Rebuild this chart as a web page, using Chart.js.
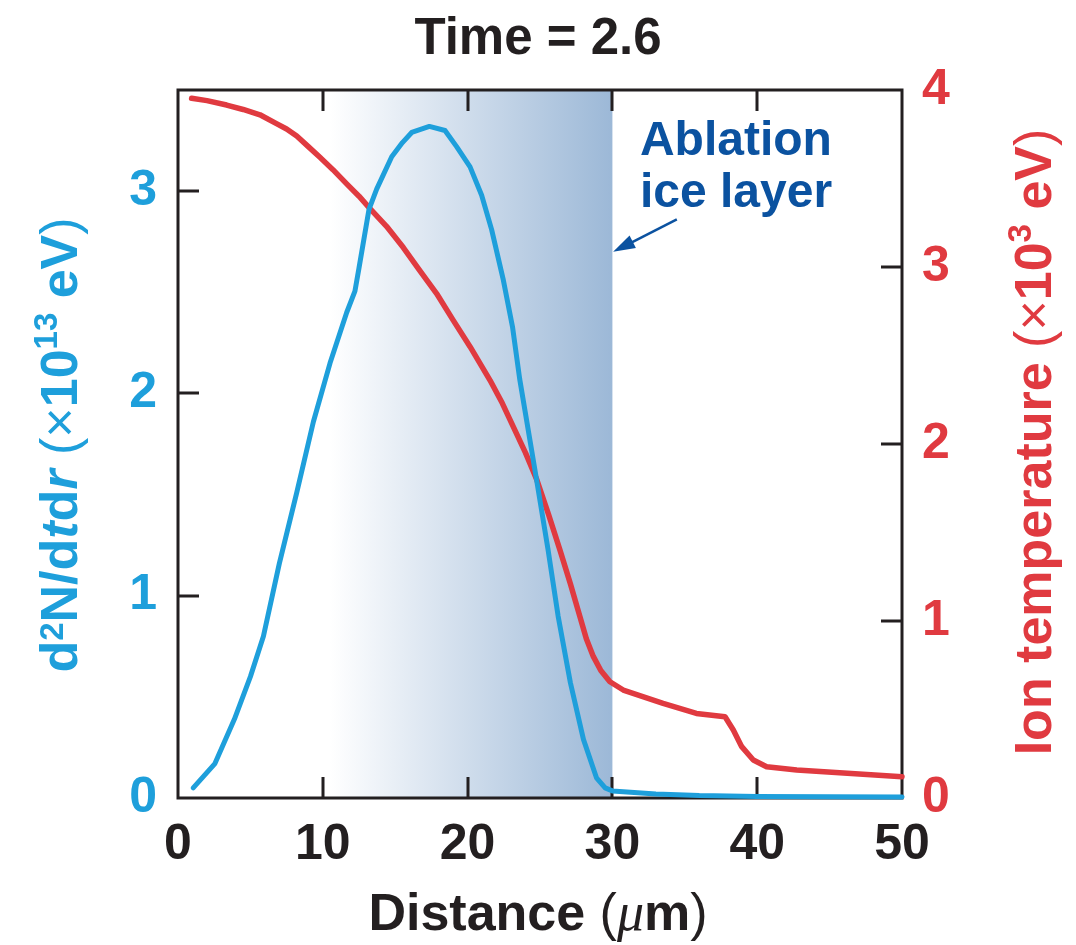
<!DOCTYPE html>
<html><head><meta charset="utf-8">
<script src="https://cdn.jsdelivr.net/npm/chart.js@4/dist/chart.umd.min.js"></script>
<style>html,body{margin:0;padding:0;background:#fff}</style>
</head><body>
<canvas id="c" width="1076" height="945"></canvas>
<script>
// ---- data ----
const titleText = 'Time = 2.6';
const distanceRange = [0, 50];
const leftRange = [0, 3.5];
const rightRange = [0, 4];
const tickStep = { x: 10, left: 1, right: 1 };

const blueDistance = [1.05, 2.55, 3.9, 5.0, 5.9, 7.0, 8.2, 9.35, 10.5, 11.65, 12.22, 12.5, 13.19, 13.72, 14.76, 15.5, 16.14, 17.36, 18.44, 19.24, 20.17, 20.97, 21.66, 22.47, 23.1, 23.6, 24.77, 25.55, 26.25, 27.1, 28.0, 28.9, 29.5, 30.0, 33, 36, 40, 45, 50];
const blueValues   = [0.05, 0.17, 0.39, 0.60, 0.80, 1.16, 1.51, 1.86, 2.15, 2.40, 2.506, 2.62, 2.91, 3.01, 3.17, 3.24, 3.29, 3.32, 3.30, 3.22, 3.12, 2.98, 2.81, 2.56, 2.33, 2.07, 1.57, 1.23, 0.90, 0.57, 0.29, 0.10, 0.05, 0.035, 0.02, 0.012, 0.008, 0.006, 0.005];

const redDistance = [0.94, 2.0, 3.36, 4.5, 5.66, 6.8, 7.5, 8.2, 9.0, 9.8, 10.7, 11.65, 12.5, 13.26, 14.4, 15.56, 16.7, 17.86, 19.0, 20.17, 21.55, 22.4, 23.2, 24.0, 24.77, 25.6, 26.38, 27.1, 27.76, 28.2, 28.68, 29.2, 29.83, 30.75, 33.5, 35.8, 37.78, 38.35, 38.93, 39.73, 40.65, 42.73, 50];
const redValues   = [3.953, 3.94, 3.915, 3.89, 3.86, 3.81, 3.78, 3.74, 3.68, 3.62, 3.55, 3.47, 3.40, 3.33, 3.23, 3.11, 2.98, 2.85, 2.70, 2.55, 2.36, 2.23, 2.09, 1.95, 1.80, 1.60, 1.40, 1.21, 1.024, 0.90, 0.80, 0.72, 0.657, 0.61, 0.535, 0.478, 0.459, 0.384, 0.29, 0.215, 0.177, 0.158, 0.12];

const iceLayer = [10.5, 30];
const annotationLines = ['Ablation', 'ice layer'];

// ---- styles ----
const BLUE = '#1e9fdb', RED = '#e03a40', INK = '#231f20', NAVY = '#0b52a0';
const SANS = "'Liberation Sans', Arial, Helvetica, sans-serif";

const blueData = blueDistance.map((x, i) => ({ x, y: blueValues[i] }));
const redData = redDistance.map((x, i) => ({ x, y: redValues[i] }));

function drawRuns(ctx, runs, cx, cy, angle) {
  ctx.save();
  ctx.translate(cx, cy);
  ctx.rotate(angle);
  ctx.textAlign = 'left';
  ctx.textBaseline = 'alphabetic';
  let total = 0;
  runs.forEach(r => { ctx.font = r.f; r.w = ctx.measureText(r.t).width; total += r.w; });
  let x = -total / 2;
  runs.forEach(r => { ctx.font = r.f; ctx.fillStyle = r.c; ctx.fillText(r.t, x, r.dy || 0); x += r.w; });
  ctx.restore();
}

const backgroundPlugin = {
  id: 'bg',
  beforeDatasetsDraw(chart) {
    const { ctx, chartArea: a, scales } = chart;
    const x1 = scales.x.getPixelForValue(iceLayer[0]);
    const x2 = scales.x.getPixelForValue(iceLayer[1]);
    const g = ctx.createLinearGradient(x1, 0, x2, 0);
    g.addColorStop(0, 'rgba(255,255,255,1)');
    g.addColorStop(1, '#9cb8d7');
    ctx.save();
    ctx.fillStyle = g;
    ctx.fillRect(x1, a.top, x2 - x1, a.bottom - a.top);
    // frame
    ctx.strokeStyle = INK;
    ctx.lineWidth = 3;
    ctx.strokeRect(a.left, a.top, a.right - a.left, a.bottom - a.top);
    // inward ticks
    const TL = 21;
    ctx.beginPath();
    for (let v = distanceRange[0] + tickStep.x; v < distanceRange[1]; v += tickStep.x) {
      const px = Math.round(scales.x.getPixelForValue(v));
      ctx.moveTo(px, a.bottom); ctx.lineTo(px, a.bottom - TL);
      ctx.moveTo(px, a.top); ctx.lineTo(px, a.top + TL);
    }
    for (let v = leftRange[0] + tickStep.left; v < leftRange[1]; v += tickStep.left) {
      const py = Math.round(scales.yL.getPixelForValue(v));
      ctx.moveTo(a.left, py); ctx.lineTo(a.left + TL, py);
    }
    for (let v = rightRange[0] + tickStep.right; v < rightRange[1]; v += tickStep.right) {
      const py = Math.round(scales.yR.getPixelForValue(v));
      ctx.moveTo(a.right, py); ctx.lineTo(a.right - TL, py);
    }
    ctx.lineWidth = 3;
    ctx.stroke();
    ctx.restore();
  },
  afterDraw(chart) {
    const { ctx, scales } = chart;
    // annotation
    const X = scales.x, Y = scales.yL;
    ctx.save();
    ctx.fillStyle = NAVY;
    ctx.font = 'bold 48px ' + SANS;
    ctx.textAlign = 'left';
    ctx.textBaseline = 'alphabetic';
    ctx.fillText(annotationLines[0], X.getPixelForValue(31.9), Y.getPixelForValue(3.18));
    ctx.fillText(annotationLines[1], X.getPixelForValue(31.9), Y.getPixelForValue(2.92));
    const tx = X.getPixelForValue(30.05), ty = Y.getPixelForValue(2.70);
    const sx = X.getPixelForValue(34.45), sy = Y.getPixelForValue(2.86);
    const ang = Math.atan2(ty - sy, tx - sx);
    ctx.strokeStyle = NAVY; ctx.lineWidth = 2.5;
    ctx.beginPath();
    ctx.moveTo(sx, sy);
    ctx.lineTo(tx - 16 * Math.cos(ang), ty - 16 * Math.sin(ang));
    ctx.stroke();
    ctx.beginPath();
    ctx.moveTo(tx, ty);
    ctx.lineTo(tx - 22 * Math.cos(ang) + 7 * Math.sin(ang), ty - 22 * Math.sin(ang) - 7 * Math.cos(ang));
    ctx.lineTo(tx - 22 * Math.cos(ang) - 7 * Math.sin(ang), ty - 22 * Math.sin(ang) + 7 * Math.cos(ang));
    ctx.closePath();
    ctx.fill();
    ctx.restore();

    // axis titles
    const B = 'bold 52px ' + SANS, R = '52px ' + SANS, BI = 'italic bold 52px ' + SANS;
    const SUP = 'bold 33px ' + SANS;
    drawRuns(ctx, [
      { t: 'd', f: B, c: BLUE }, { t: '2', f: SUP, c: BLUE, dy: -14 },
      { t: 'N/d', f: B, c: BLUE }, { t: 't', f: BI, c: BLUE }, { t: 'd', f: B, c: BLUE },
      { t: 'r', f: BI, c: BLUE }, { t: ' (', f: R, c: BLUE }, { t: '\u00D7', f: R, c: BLUE },
      { t: '10', f: B, c: BLUE }, { t: '13', f: SUP, c: BLUE, dy: -20 },
      { t: ' eV', f: B, c: BLUE }, { t: ')', f: R, c: BLUE }
    ], 77, 445, -Math.PI / 2);
    drawRuns(ctx, [
      { t: 'Ion temperature ', f: B, c: RED }, { t: '(', f: R, c: RED }, { t: '\u00D7', f: R, c: RED },
      { t: '10', f: B, c: RED }, { t: '3', f: SUP, c: RED, dy: -20 },
      { t: ' eV', f: B, c: RED }, { t: ')', f: R, c: RED }
    ], 1051, 442, -Math.PI / 2);
    drawRuns(ctx, [
      { t: 'Distance ', f: B, c: INK }, { t: '(', f: R, c: INK },
      { t: '\u03BC', f: "italic 54px 'Liberation Serif', serif", c: INK },
      { t: 'm', f: B, c: INK }, { t: ')', f: R, c: INK }
    ], 538, 930, 0);
  }
};

const tickFont = { family: SANS, size: 50, weight: 'bold', lineHeight: 1 };
const intOnly = v => (Math.abs(v - Math.round(v)) < 1e-9 ? String(v) : null);

new Chart(document.getElementById('c'), {
  type: 'line',
  data: {
    datasets: [
      { label: 'd2N/dtdr', data: blueData, yAxisID: 'yL', borderColor: BLUE, borderWidth: 5,
        pointRadius: 0, tension: 0, fill: false, clip: false,
        borderJoinStyle: 'round', borderCapStyle: 'round' },
      { label: 'Ion temperature', data: redData, yAxisID: 'yR', borderColor: RED, borderWidth: 5.5,
        pointRadius: 0, tension: 0, fill: false, clip: false,
        borderJoinStyle: 'round', borderCapStyle: 'round' }
    ]
  },
  options: {
    responsive: false, animation: false, devicePixelRatio: 1,
    layout: { padding: 0 },
    plugins: {
      legend: { display: false }, tooltip: { enabled: false },
      title: { display: true, text: titleText, color: INK,
        font: { family: SANS, size: 51, weight: 'bold', lineHeight: 1 },
        padding: { top: 14, bottom: 25 } }
    },
    scales: {
      x: { type: 'linear', position: 'bottom', min: distanceRange[0], max: distanceRange[1],
        grid: { display: false, drawTicks: false }, border: { display: false },
        ticks: { stepSize: tickStep.x, font: tickFont, color: INK, padding: 22, maxRotation: 0, callback: intOnly },
        afterFit: s => { s.height = 147; } },
      yL: { type: 'linear', position: 'left', min: leftRange[0], max: leftRange[1],
        grid: { display: false, drawTicks: false }, border: { display: false },
        ticks: { stepSize: tickStep.left, font: tickFont, color: BLUE, padding: 21, callback: intOnly },
        afterFit: s => { s.width = 178; } },
      yR: { type: 'linear', position: 'right', min: rightRange[0], max: rightRange[1],
        grid: { display: false, drawTicks: false }, border: { display: false },
        ticks: { stepSize: tickStep.right, font: tickFont, color: RED, padding: 20, callback: intOnly },
        afterFit: s => { s.width = 174; } }
    }
  },
  plugins: [backgroundPlugin]
});
</script>
</body></html>
